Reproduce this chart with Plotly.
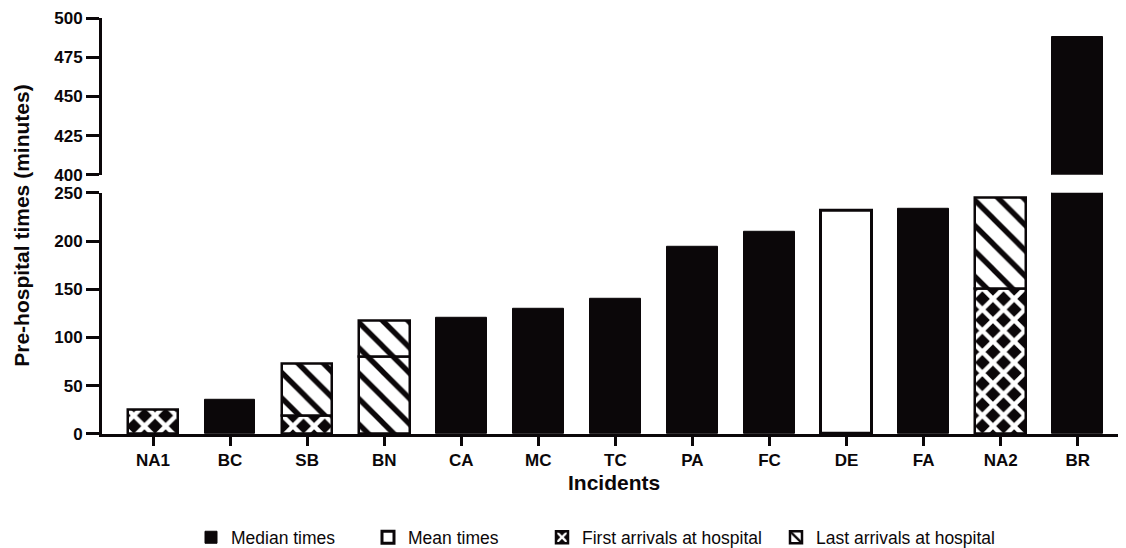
import plotly.graph_objects as go

# ---- data ----
categories = ["NA1", "BC", "SB", "BN", "CA", "MC", "TC", "PA", "FC", "DE", "FA", "NA2", "BR"]

median_cats = ["BC", "CA", "MC", "TC", "PA", "FC", "FA", "BR"]
median_vals = [35, 120, 130, 140, 194, 210, 233, 488]

mean_cats = ["DE"]
mean_vals = [231]

first_cats = ["NA1", "SB", "NA2"]
first_vals = [25, 19, 151]

bn_lower_cats = ["BN"]
bn_lower_vals = [80]

last_cats = ["SB", "BN", "NA2"]
last_top = [73, 117, 245]
last_base = [19, 80, 151]

upper_cats = ["BR"]
upper_vals = [488]

lower_ticks = [0, 50, 100, 150, 200, 250]
upper_ticks = [400, 425, 450, 475, 500]

# ---- style ----
BLACK = "#0b0709"
W = 0.657
FONT = "Liberation Sans, Arial, sans-serif"
LEG_FONT = "Liberation Sans, Arial, sans-serif"

cross = dict(shape="x", bgcolor=BLACK, fgcolor="white", size=15, solidity=0.5, fillmode="replace")
diag = dict(shape="\\", bgcolor="white", fgcolor=BLACK, size=18, solidity=0.3, fillmode="replace")

fig = go.Figure()

fig.add_trace(go.Bar(x=median_cats, y=median_vals, width=W, name="Median times",
                     marker=dict(color=BLACK, line=dict(color=BLACK, width=1)),
                     legend="legend"))
fig.add_trace(go.Bar(x=mean_cats, y=mean_vals, width=W, name="Mean times",
                     marker=dict(color="white", line=dict(color=BLACK, width=3)),
                     legend="legend2"))
fig.add_trace(go.Bar(x=first_cats, y=first_vals, width=W, name="First arrivals at hospital",
                     marker=dict(color=BLACK, pattern=cross, line=dict(color=BLACK, width=2.5)),
                     legend="legend3"))
fig.add_trace(go.Bar(x=bn_lower_cats, y=bn_lower_vals, width=W, showlegend=False,
                     marker=dict(color="white", pattern=diag, line=dict(color=BLACK, width=2.5))))
fig.add_trace(go.Bar(x=last_cats, y=[t - b for t, b in zip(last_top, last_base)], base=last_base,
                     width=W, name="Last arrivals at hospital",
                     marker=dict(color="white", pattern=diag, line=dict(color=BLACK, width=2.5)),
                     legend="legend4"))
fig.add_trace(go.Bar(x=upper_cats, y=upper_vals, width=W, showlegend=False, yaxis="y2",
                     marker=dict(color=BLACK, line=dict(color=BLACK, width=1))))

# the page body has an 8px margin, so the figure is drawn from (8, 8)
OFF = 8
FIG_W, FIG_H = 1126 - OFF, 548 - OFF
L, R, T, B = 102 - OFF, 2, 18 - OFF, 113.5
PW = FIG_W - L - R
PH = FIG_H - T - B


def px_x(px):
    return (px - OFF - L) / PW


def px_y(py):
    return (FIG_H - B - (py - OFF)) / PH


axis_style = dict(showline=True, linewidth=3, linecolor=BLACK, ticks="outside", tickwidth=3,
                  tickcolor=BLACK, showgrid=False, zeroline=False, automargin=False,
                  tickfont=dict(family=FONT, size=17, color=BLACK, weight="bold"))

leg_common = dict(orientation="h", yanchor="middle", xanchor="left", bgcolor="rgba(0,0,0,0)",
                  xref="paper", yref="paper",
                  font=dict(family=LEG_FONT, size=17.5, color=BLACK))

fig.update_layout(
    width=FIG_W, height=FIG_H,
    margin=dict(l=L, r=R, t=T, b=B, autoexpand=False),
    paper_bgcolor="white", plot_bgcolor="white",
    barmode="overlay",
    bargap=0,
    xaxis=dict(type="category", categoryorder="array", categoryarray=categories,
               range=[-0.662, 12.60], anchor="y", ticklen=9, **axis_style),
    yaxis=dict(domain=[0, px_y(193)], range=[0, 250], tickvals=lower_ticks, ticklen=13,
               **axis_style),
    yaxis2=dict(domain=[px_y(175), 1], range=[400, 500], tickvals=upper_ticks, anchor="x",
                ticklen=13, **axis_style),
    legend=dict(x=px_x(191), y=px_y(538), **leg_common),
    legend2=dict(x=px_x(368), y=px_y(538), **leg_common),
    legend3=dict(x=px_x(542), y=px_y(538), **leg_common),
    legend4=dict(x=px_x(776), y=px_y(538), **leg_common),
    annotations=[
        dict(text="Pre-hospital times (minutes)", x=px_x(22), y=px_y(226), xref="paper", yref="paper",
             textangle=-90, showarrow=False, xanchor="center", yanchor="middle",
             font=dict(family=FONT, size=21, color=BLACK, weight="bold")),
        dict(text="Incidents", x=px_x(614), y=px_y(483), xref="paper", yref="paper",
             showarrow=False, xanchor="center", yanchor="middle",
             font=dict(family=FONT, size=21, color=BLACK, weight="bold")),
    ],
)

fig.write_html("out.html")
